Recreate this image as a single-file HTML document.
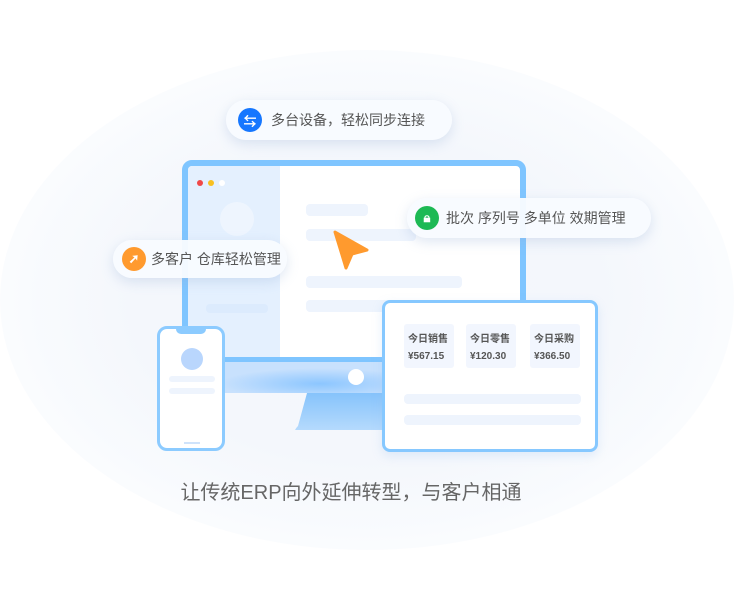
<!DOCTYPE html>
<html><head><meta charset="utf-8"><style>
*{margin:0;padding:0;box-sizing:border-box}
body{width:734px;height:600px;background:#fff;position:relative;overflow:hidden;font-family:"Liberation Sans","Noto Sans CJK SC",sans-serif}
.a{position:absolute}
.glow{left:0px;top:50px;width:734px;height:500px;border-radius:50%;background:radial-gradient(ellipse at center,#f3f6fc 0%,#f4f7fc 45%,rgba(246,249,253,0.7) 65%,rgba(255,255,255,0) 85%)}
.pill{background:rgba(248,251,255,0.96);border-radius:20px;box-shadow:0 4px 12px rgba(150,175,215,0.3);font-size:14px;color:#555;display:flex;align-items:center}
.ic{width:24px;height:24px;border-radius:50%;color:#fff;font-size:13px;display:flex;align-items:center;justify-content:center;margin-right:9px;font-weight:bold}
.bar{background:#eef4fd;border-radius:4px}
.card{background:#f2f6fe;border-radius:3px;font-size:10px;color:#555;padding:7px 0 0 4px;line-height:17px;font-weight:bold}
</style></head><body>
<div class="a glow"></div>
<!-- monitor -->
<div class="a" style="left:182px;top:160px;width:344px;height:203px;border:6px solid #7fc5ff;border-radius:10px;background:#fff;overflow:hidden">
 <div class="a" style="left:0;top:0;width:92px;height:200px;background:#e4f0fe"></div>
 <div class="a" style="left:9px;top:14px;width:6px;height:6px;border-radius:50%;background:#f04848"></div>
 <div class="a" style="left:20px;top:14px;width:6px;height:6px;border-radius:50%;background:#f8c020"></div>
 <div class="a" style="left:31px;top:14px;width:6px;height:6px;border-radius:50%;background:#fff"></div>
 <div class="a" style="left:32px;top:36px;width:34px;height:34px;border-radius:50%;background:#eef5fe"></div>
 <div class="a bar" style="left:18px;top:138px;width:62px;height:9px;background:#dcebfd"></div>
 <div class="a bar" style="left:118px;top:38px;width:62px;height:12px"></div>
 <div class="a bar" style="left:118px;top:63px;width:110px;height:12px"></div>
 <div class="a bar" style="left:118px;top:110px;width:156px;height:12px"></div>
 <div class="a bar" style="left:118px;top:134px;width:100px;height:12px"></div>
</div>
<svg class="a" style="left:0;top:0" width="734" height="600">
 <defs><linearGradient id="st" x1="0" y1="0" x2="0" y2="1"><stop offset="0" stop-color="#86c3fb"/><stop offset="1" stop-color="#b5dafd"/></linearGradient>
 <radialGradient id="ch" cx="0.6" cy="0.7" r="0.5"><stop offset="0" stop-color="#8cc6ff"/><stop offset="1" stop-color="#c8e1fd"/></radialGradient></defs>
 <path d="M307 393 L400 393 L400 430 L295 430 Q296 428 298 426 Z" fill="url(#st)"/>
 <rect x="200" y="362" width="200" height="31" fill="url(#ch)"/>
 <circle cx="356" cy="377" r="8" fill="#fff"/>
 <path d="M335 232 L367 250 L352 254 L346 268 Z" fill="#ff9a2e" stroke="#ff9a2e" stroke-width="3" stroke-linejoin="round"/>
</svg>
<!-- phone -->
<div class="a" style="left:157px;top:326px;width:68px;height:125px;border:3px solid #8ccbff;border-radius:10px;background:#fff">
 <div class="a" style="left:16px;top:-1px;width:30px;height:6px;background:#8ccbff;border-radius:0 0 5px 5px"></div>
 <div class="a" style="left:21px;top:19px;width:22px;height:22px;border-radius:50%;background:#b9d6fd"></div>
 <div class="a bar" style="left:9px;top:47px;width:46px;height:6px"></div>
 <div class="a bar" style="left:9px;top:59px;width:46px;height:6px"></div>
 <div class="a" style="left:24px;top:113px;width:16px;height:2px;background:#cfe3fb"></div>
</div>
<!-- tablet -->
<div class="a" style="left:382px;top:300px;width:216px;height:152px;border:3px solid #86c8ff;border-radius:8px;background:#fff;box-shadow:0 4px 10px rgba(150,190,240,0.25)">
 <div class="a card" style="left:19px;top:21px;width:50px;height:44px">今日销售<br>¥567.15</div>
 <div class="a card" style="left:81px;top:21px;width:50px;height:44px">今日零售<br>¥120.30</div>
 <div class="a card" style="left:145px;top:21px;width:50px;height:44px">今日采购<br>¥366.50</div>
 <div class="a bar" style="left:19px;top:91px;width:177px;height:10px"></div>
 <div class="a bar" style="left:19px;top:112px;width:177px;height:10px"></div>
</div>
<!-- pills -->
<div class="a pill" style="left:226px;top:100px;width:226px;height:40px;padding-left:12px"><div class="ic" style="background:#1677ff">⇆</div>多台设备，轻松同步连接</div>
<div class="a pill" style="left:407px;top:198px;width:244px;height:40px;padding-left:8px"><div class="ic" style="background:#1db954;margin-right:7px">🔒︎</div>批次 序列号 多单位 效期管理</div>
<div class="a pill" style="left:113px;top:240px;width:174px;height:38px;padding-left:9px"><div class="ic" style="background:#ff9a2e;margin-right:5px">➚</div>多客户 仓库轻松管理</div>
<div class="a" style="left:0;width:702px;top:476px;text-align:center;font-size:20px;color:#666">让传统ERP向外延伸转型，与客户相通</div>
</body></html>
